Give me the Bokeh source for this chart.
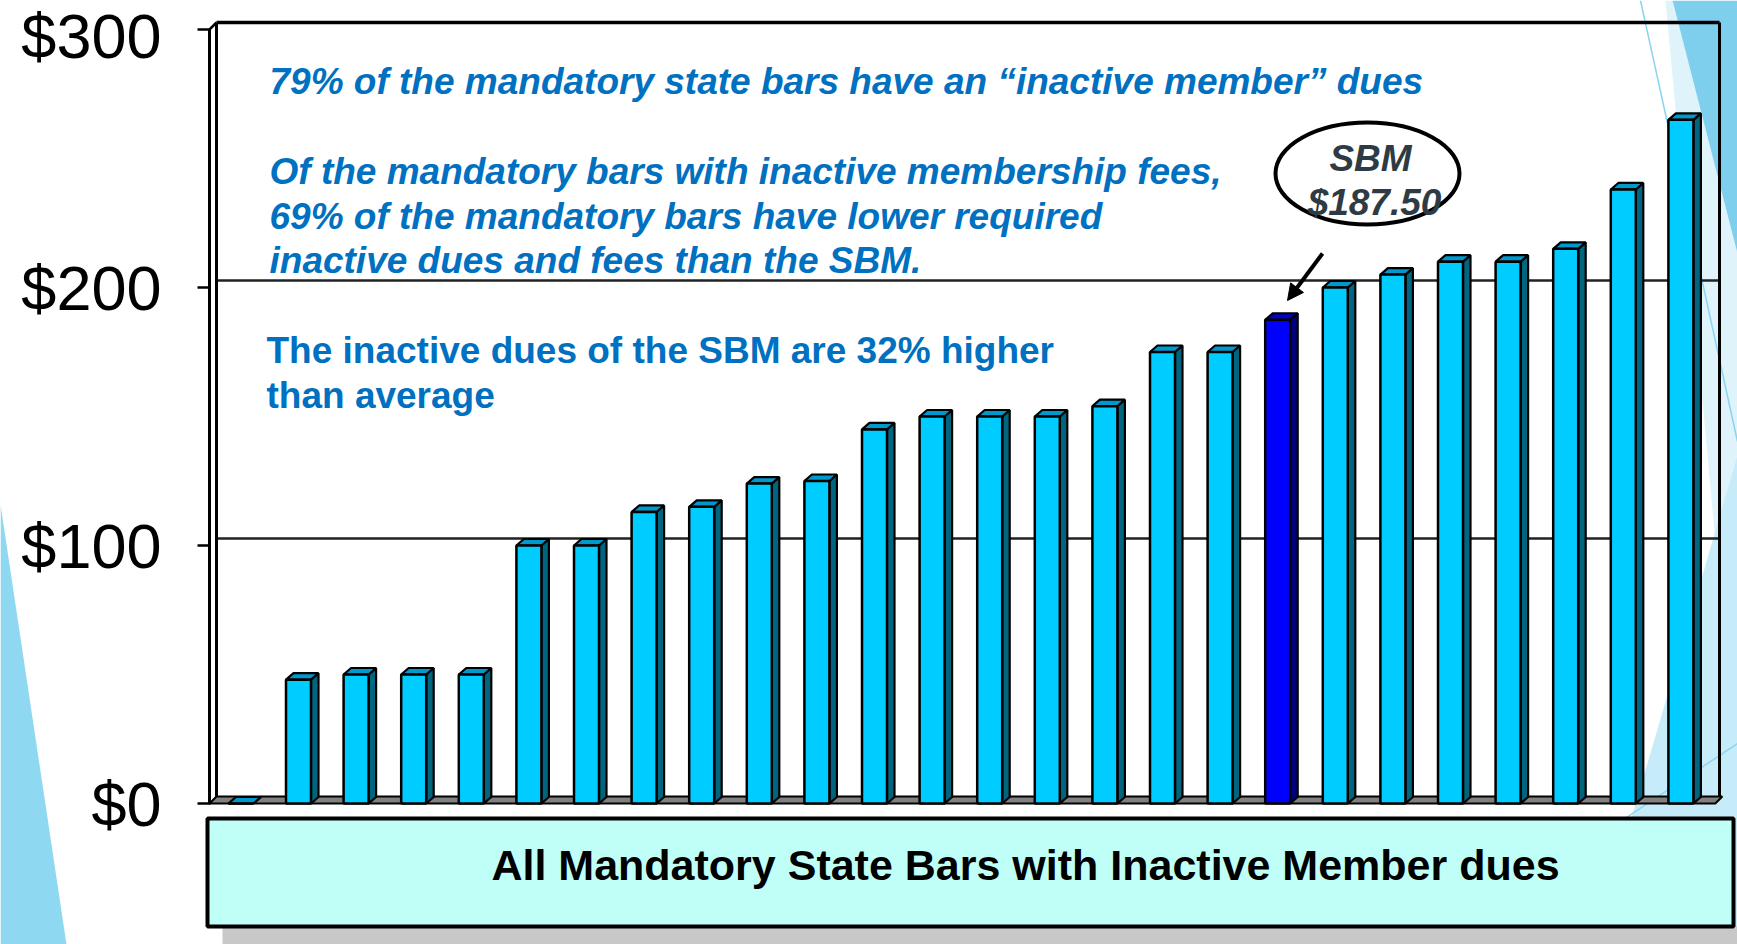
from bokeh.plotting import figure
from bokeh.models import Range1d, FixedTicker, Label, Arrow, NormalHead
from bokeh.embed import file_html
from bokeh.resources import INLINE

# ---------------- data ----------------
dues = [0, 48, 50, 50, 50, 100, 100, 113, 115, 124, 125, 145, 150, 150, 150,
        154, 175, 175, 187.5, 200, 205, 210, 210, 215, 238, 265]
sbm_position = 19
tick_values = [0, 100, 200, 300]
tick_labels = ["$0", "$100", "$200", "$300"]
x_label = "All Mandatory State Bars with Inactive Member dues"
note_1 = "79% of the mandatory state bars have an \u201cinactive member\u201d dues"
note_2 = ["Of the mandatory bars with inactive membership fees,",
          "69% of the mandatory bars have lower required",
          "inactive dues and fees than the SBM."]
note_3 = ["The inactive dues of the SBM are 32% higher", "than average"]
callout = ["SBM", "$187.50"]

positions = list(range(1, len(dues) + 1))

# ---------------- geometry helpers (page pixels -> data) ----------------
PXU = 57.6      # px per category step
PYU = 2.58      # px per dollar
XP0 = 182.8     # page x of position 0
YP0 = 803.0     # page y of $0 (front)


def dx(px):
    return (px - XP0) / PXU


def dy(py):
    return (YP0 - py) / PYU


W, H = 1737, 944
p = figure(width=W, height=H, x_range=Range1d(dx(0), dx(W)), y_range=Range1d(dy(H), dy(0)),
           output_backend="svg", toolbar_location=None, x_axis_location=None,
           min_border=0, min_border_left=0, min_border_right=0,
           min_border_top=0, min_border_bottom=0)
p.grid.visible = False
p.outline_line_color = None
p.background_fill_color = "white"
p.border_fill_color = "white"

# ---- y axis (drawn at a fixed location inside the full-page frame) ----
ax = p.yaxis[0]
ax.fixed_location = dx(209)
ax.ticker = FixedTicker(ticks=tick_values)
ax.major_label_overrides = {v: t for v, t in zip(tick_values, tick_labels)}
ax.major_label_text_font = "Liberation Sans"
ax.major_label_text_font_size = "63px"
ax.major_label_text_color = "black"
ax.axis_line_color = None
ax.major_tick_line_color = "black"
ax.major_tick_line_width = 2.5
ax.major_tick_out = 12
ax.major_tick_in = 1
ax.minor_tick_line_color = None
ax.major_label_standoff = 36

# ---- slide decorations ----
p.patch([dx(0), dx(66), dx(0)], [dy(504), dy(944), dy(944)],
        fill_color="#8FD8F1", line_color=None)
p.patch([dx(1665), dx(1672), dx(1737), dx(1737)], [dy(0), dy(0), dy(253), dy(780)],
        fill_color="#DFF3FA", line_color=None)
p.patch([dx(1672), dx(1737), dx(1737)], [dy(0), dy(0), dy(253)],
        fill_color="#7ECEEE", line_color=None)
p.patch([dx(1737), dx(1737), dx(1594)], [dy(455), dy(944), dy(944)],
        fill_color="#C6ECF9", line_color=None)
p.line([dx(1640), dx(1737)], [dy(0), dy(441)], line_color="#8AD4F0", line_width=1.5)
p.line([dx(1620), dx(1737)], [dy(821), dy(743)], line_color="#8AD4F0", line_width=1.5)

# ---- 3D walls / floor ----
DXW = 7 / PXU
DYW = 7 / PYU
x_wall_front = dx(209)
x_wall_back = dx(216)
x_right = dx(1719)
top_v = tick_values[-1]
p.patch([x_wall_front, x_wall_back, x_right + DXW * 0.4, x_right - DXW * 0.6],
        [0, DYW, DYW, 0], fill_color="#808080", line_color="black", line_width=2)
for v in tick_values[1:-1]:
    p.line([x_wall_back, x_right], [v + DYW, v + DYW], line_color="#222222", line_width=2.5)
p.line([x_wall_back, x_right], [top_v + DYW, top_v + DYW], line_color="black", line_width=3.5)
p.line([x_right, x_right], [DYW, top_v + DYW], line_color="black", line_width=3)
p.line([x_wall_back, x_wall_back], [DYW, top_v + DYW], line_color="black", line_width=3)
p.line([x_wall_front, x_wall_front], [0, top_v], line_color="black", line_width=3)
p.line([x_wall_front, x_wall_back], [top_v, top_v + DYW], line_color="black", line_width=2.5)

# ---- bars ----
HW = 12.5 / PXU
DX = 7.5 / PXU
DY = 6.5 / PYU
front_cols = ["#0000FF" if i == sbm_position else "#00CCFF" for i in positions]
side_cols = ["#000080" if i == sbm_position else "#006680" for i in positions]
top_cols = ["#0000CC" if i == sbm_position else "#0099CC" for i in positions]

side_xs = [[x + HW, x + HW + DX, x + HW + DX, x + HW] for x in positions]
side_ys = [[0, DY, v + DY, v] for v in dues]
top_xs = [[x - HW, x - HW + DX, x + HW + DX, x + HW] for x in positions]
top_ys = [[v, v + DY, v + DY, v] for v in dues]

p.patches(side_xs, side_ys, fill_color=side_cols, line_color="black", line_width=2.2)
p.patches(top_xs, top_ys, fill_color=top_cols, line_color="black", line_width=2.2)
p.vbar(x=positions, top=dues, bottom=0, width=2 * HW, fill_color=front_cols,
       line_color="black", line_width=2.5)

# ---- x-axis caption box ----
p.quad(left=dx(222), right=dx(1745), bottom=dy(950), top=dy(926),
       fill_color="#C8C8C8", line_color=None)
p.quad(left=dx(207), right=dx(1733), bottom=dy(926), top=dy(818),
       fill_color="#BFFFF8", line_color="black", line_width=4)
p.add_layout(Label(x=dx(1025), y=dy(864), text=x_label, text_font="Liberation Sans",
                   text_font_size="43px", text_font_style="bold", text_color="black",
                   text_align="center", text_baseline="middle"))

# ---- notes ----
blue = "#0070C0"
p.add_layout(Label(x=dx(269), y=dy(81), text=note_1, text_font="Liberation Sans",
                   text_font_size="37px", text_font_style="bold italic", text_color=blue,
                   text_align="left", text_baseline="middle"))
for k, t in enumerate(note_2):
    p.add_layout(Label(x=dx(269), y=dy(171 + 44.5 * k), text=t, text_font="Liberation Sans",
                       text_font_size="37px", text_font_style="bold italic", text_color=blue,
                       text_align="left", text_baseline="middle"))
for k, t in enumerate(note_3):
    p.add_layout(Label(x=dx(266), y=dy(350 + 45 * k), text=t, text_font="Liberation Sans",
                       text_font_size="37px", text_font_style="bold", text_color=blue,
                       text_align="left", text_baseline="middle"))

# ---- SBM callout ----
p.ellipse(x=dx(1367), y=dy(173), width=184, height=102, width_units="screen",
          height_units="screen", fill_color="white", line_color="black", line_width=4)
p.add_layout(Label(x=dx(1370), y=dy(158), text=callout[0], text_font="Liberation Sans",
                   text_font_size="37px", text_font_style="bold italic", text_color="#2E3B44",
                   text_align="center", text_baseline="middle"))
p.add_layout(Label(x=dx(1374), y=dy(202), text=callout[1], text_font="Liberation Sans",
                   text_font_size="37px", text_font_style="bold italic", text_color="#2E3B44",
                   text_align="center", text_baseline="middle"))
p.add_layout(Arrow(end=NormalHead(size=16, fill_color="black", line_color="black"),
                   x_start=dx(1322), y_start=dy(253), x_end=dx(1287), y_end=dy(300),
                   line_color="black", line_width=4))

open("out.html", "w").write(file_html(p, INLINE))
